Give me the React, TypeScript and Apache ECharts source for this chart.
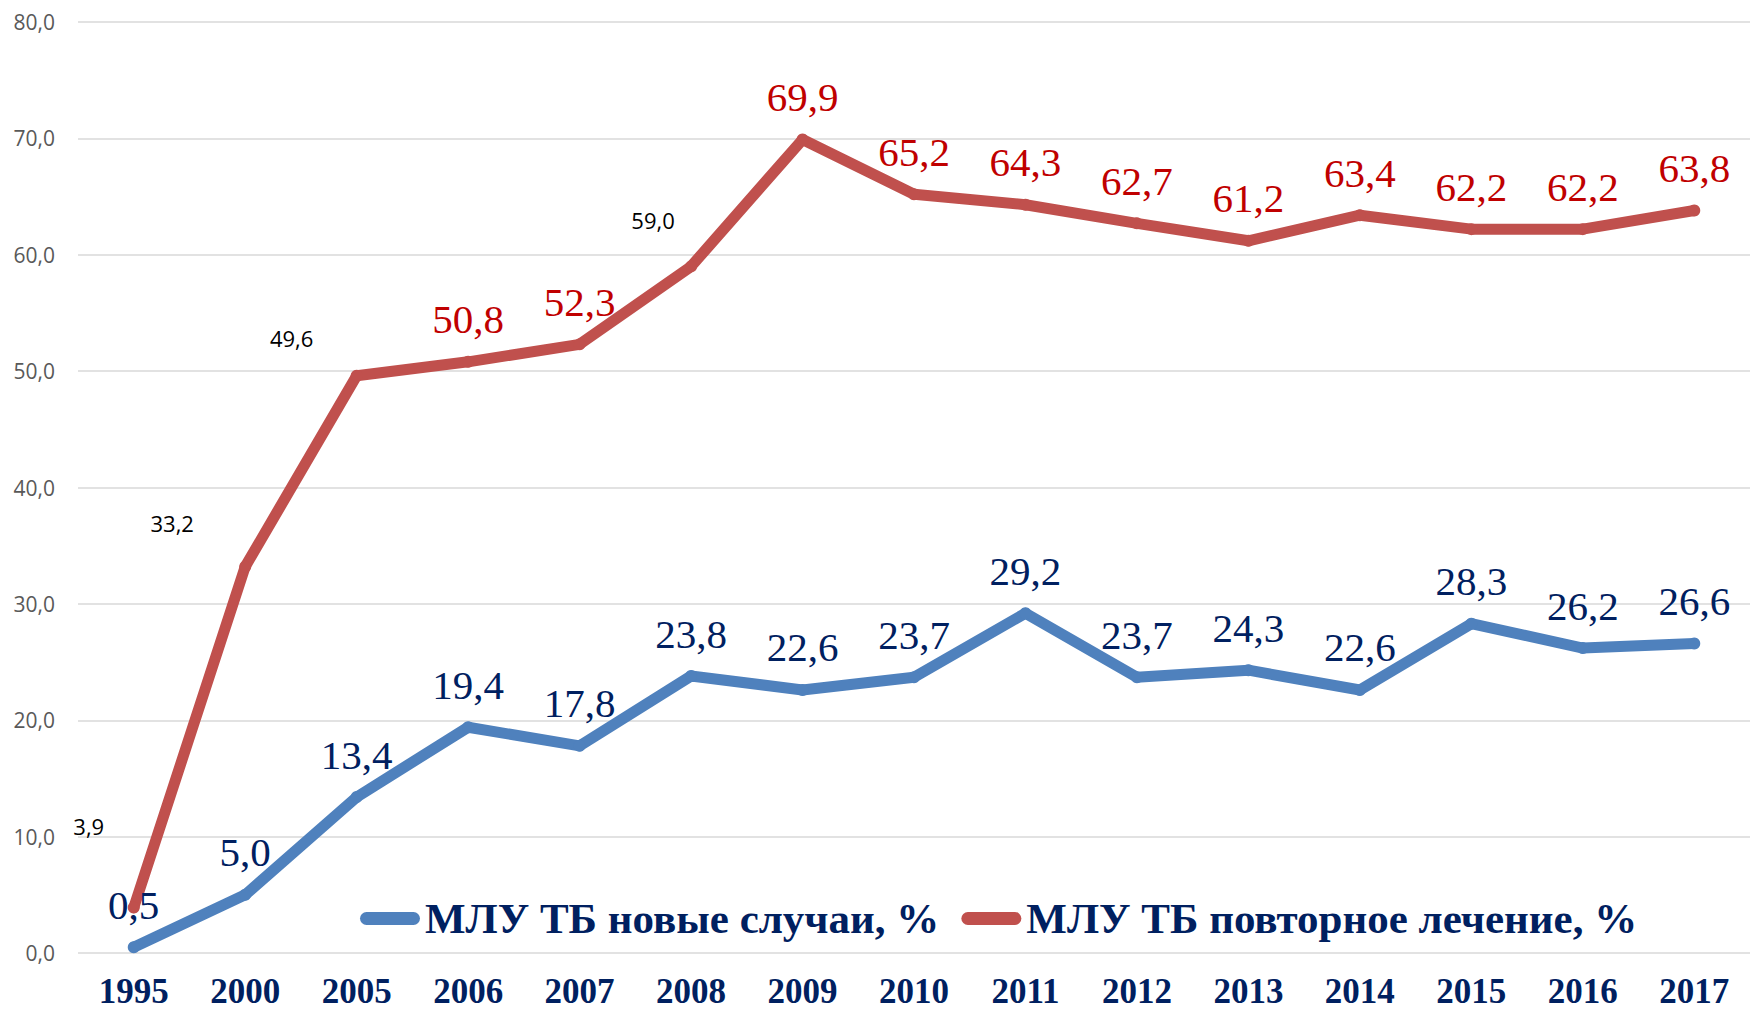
import React, { useEffect, useRef } from "react";
import * as echarts from "echarts";

const years = ["1995", "2000", "2005", "2006", "2007", "2008", "2009", "2010", "2011", "2012", "2013", "2014", "2015", "2016", "2017"];
const newCases = [0.5, 5.0, 13.4, 19.4, 17.8, 23.8, 22.6, 23.7, 29.2, 23.7, 24.3, 22.6, 28.3, 26.2, 26.6];
const retreatment = [3.9, 33.2, 49.6, 50.8, 52.3, 59.0, 69.9, 65.2, 64.3, 62.7, 61.2, 63.4, 62.2, 62.2, 63.8];
const yTicks = [0, 10, 20, 30, 40, 50, 60, 70, 80];
const seriesNames = ["МЛУ ТБ новые случаи, %", "МЛУ ТБ повторное лечение, %"];

// label placement styles (black small labels moved off the line)
const blackLabelOffsets: Record<number, [number, number]> = {
  0: [-45, -65],
  1: [-73, -27],
  2: [-65, -21],
  5: [-38, -29],
};

const pillIcon =
  "path://M6.5,0 L53.5,0 A6.5,6.5,0,0,1,53.5,13 L6.5,13 A6.5,6.5,0,0,1,6.5,0 Z";

const fmt = (v: number) => v.toFixed(1).replace(".", ",");

export default function App() {
  const ref = useRef<HTMLDivElement>(null);
  useEffect(() => {
    if (!ref.current) return;
    const chart = echarts.init(ref.current, undefined, { renderer: "svg" });
    const bigLabel = (color: string) => ({
      show: true,
      position: "top",
      distance: 16,
      color,
      fontFamily: "Liberation Serif",
      fontSize: 41,
      lineHeight: 41,
      formatter: (p: any) => fmt(p.value),
    });
    const redData = retreatment.map((v, i) => {
      const off = blackLabelOffsets[i];
      if (!off) return v;
      return {
        value: v,
        label: {
          show: true,
          position: "top",
          distance: 0,
          offset: off,
          color: "#000000",
          fontFamily: "Open Sans",
          fontSize: 22,
          lineHeight: 22,
        },
      };
    });
    chart.setOption({
      animation: false,
      backgroundColor: "#ffffff",
      grid: { left: 78, right: -8, top: 22, bottom: 57 },
      legend: {
        left: 355,
        top: 892,
        itemWidth: 60,
        itemHeight: 13,
        itemGap: 22,
        textStyle: {
          fontFamily: "Liberation Serif",
          fontWeight: "bold",
          fontSize: 43,
          lineHeight: 43,
          color: "#002060",
        },
        data: [
          { name: seriesNames[0], icon: pillIcon },
          { name: seriesNames[1], icon: pillIcon },
        ],
      },
      xAxis: {
        type: "category",
        data: years,
        boundaryGap: true,
        axisLine: { show: false },
        axisTick: { show: false },
        axisLabel: {
          margin: 21,
          fontFamily: "Liberation Serif",
          fontWeight: "bold",
          fontSize: 35,
          lineHeight: 35,
          color: "#002060",
          interval: 0,
        },
      },
      yAxis: {
        type: "value",
        min: yTicks[0],
        max: yTicks[yTicks.length - 1],
        interval: 10,
        axisLine: { show: false },
        axisTick: { show: false },
        splitLine: { lineStyle: { color: "#D9D9D9", width: 1.5 } },
        axisLabel: {
          margin: 23,
          fontFamily: "Open Sans",
          fontSize: 21,
          color: "#595959",
          formatter: (v: number) => fmt(v),
        },
      },
      series: [
        {
          name: seriesNames[0],
          type: "line",
          data: newCases,
          symbol: "circle",
          symbolSize: 12,
          itemStyle: { color: "#4F81BD" },
          lineStyle: { color: "#4F81BD", width: 11, cap: "round", join: "round" },
          label: bigLabel("#002060"),
          z: 3,
        },
        {
          name: seriesNames[1],
          type: "line",
          data: redData,
          symbol: "circle",
          symbolSize: 12,
          itemStyle: { color: "#C0504D" },
          lineStyle: { color: "#C0504D", width: 11, cap: "round", join: "round" },
          label: bigLabel("#C00000"),
          z: 2,
        },
      ],
    });
    return () => chart.dispose();
  }, []);
  return (
    <div
      ref={ref}
      style={{ position: "fixed", left: 0, top: 0, width: 1750, height: 1010 }}
    />
  );
}
